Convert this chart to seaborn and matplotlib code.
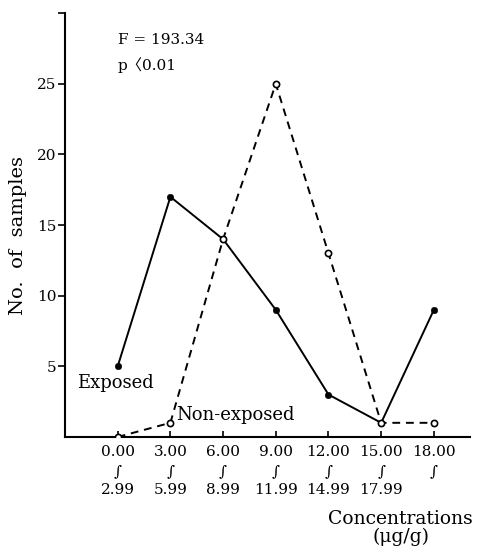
import pandas as pd
import matplotlib.pyplot as plt
import seaborn as sns

# -------------------------------
# Data
# -------------------------------
bin_start = [0, 3, 6, 9, 12, 15, 18]
tick_labels = ["0.00\n∫\n2.99", "3.00\n∫\n5.99", "6.00\n∫\n8.99", "9.00\n∫\n11.99",
               "12.00\n∫\n14.99", "15.00\n∫\n17.99", "18.00\n∫\n"]
exposed = [5, 17, 14, 9, 3, 1, 9]
non_exposed = [0, 1, 14, 25, 13, 1, 1]

df = pd.DataFrame({
    "conc": bin_start * 2,
    "count": exposed + non_exposed,
    "group": ["Exposed"] * 7 + ["Non-exposed"] * 7,
})

sns.set_style("white")
plt.rcParams["font.family"] = ["DejaVu Serif"]
plt.rcParams["text.color"] = "black"
plt.rcParams["xtick.color"] = "black"
plt.rcParams["ytick.color"] = "black"
plt.rcParams["axes.labelcolor"] = "black"

fig = plt.figure(figsize=(4.78, 5.51), dpi=100)
ax = fig.add_axes([0.136, 0.207, 0.847, 0.769])

sns.lineplot(data=df, x="conc", y="count", style="group", sort=False,
             dashes={"Exposed": "", "Non-exposed": (4, 3)},
             color="black", linewidth=1.4, legend=False, ax=ax)

# markers: filled for exposed, open for non-exposed
ex = df[df["group"] == "Exposed"]
ne = df[df["group"] == "Non-exposed"]
sns.scatterplot(data=ex, x="conc", y="count", color="black", s=22,
                edgecolor="black", zorder=3, ax=ax, legend=False)
sns.scatterplot(data=ne, x="conc", y="count", facecolor="white", s=20,
                edgecolor="black", linewidth=1.2, zorder=3, ax=ax, legend=False)

ax.set_xlim(-3, 20.05)
ax.set_ylim(0, 30)
ax.set_xticks(bin_start)
ax.set_xticklabels(tick_labels, fontsize=11, linespacing=1.45)
ax.set_yticks([5, 10, 15, 20, 25, 30])
ax.set_yticklabels(["5", "10", "15", "20", "25", ""], fontsize=11)
ax.tick_params(axis="x", bottom=True, direction="in", length=4, width=1.2, pad=6)
ax.tick_params(axis="y", left=True, direction="out", length=5, width=1.2, pad=1)

for s in ["top", "right"]:
    ax.spines[s].set_visible(False)
for s in ["left", "bottom"]:
    ax.spines[s].set_linewidth(1.5)
    ax.spines[s].set_color("black")

ax.set_xlabel("")
ax.set_ylabel("No.  of  samples", fontsize=14)
ax.yaxis.set_label_coords(-0.094, 0.476)

ax.text(0, 27.8, "F = 193.34", fontsize=11)
ax.text(0, 26.0, "p〈0.01", fontsize=11, family=["DejaVu Serif", "Noto Sans CJK JP"])
ax.text(-2.3, 3.5, "Exposed", fontsize=13)
ax.text(3.3, 1.2, "Non-exposed", fontsize=13)

fig.text(0.99, 0.074, "Concentrations\n(μg/g)", ha="right", va="top",
         fontsize=13.5, multialignment="center", linespacing=1.0)

fig.savefig("out.png", dpi=100)
